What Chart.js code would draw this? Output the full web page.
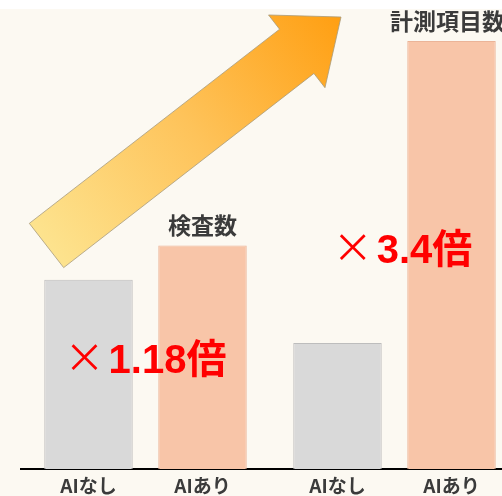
<!DOCTYPE html>
<html lang="ja">
<head>
<meta charset="utf-8">
<script src="https://cdn.jsdelivr.net/npm/chart.js@4"></script>
<style>
html,body{margin:0;padding:0;}
body{width:502px;height:496px;overflow:hidden;background:linear-gradient(#ffffff 0 9px,#fcf9f2 9px);}
#wrap{width:520px;height:496px;}
</style>
</head>
<body>
<div id="wrap"><canvas id="c" width="520" height="496"></canvas></div>
<script>
// Groups and series
const groups = ['検査数', '計測項目数'];
const seriesNames = ['AIなし', 'AIあり'];
// Relative values (AIなし of 検査数 = 100)
const withoutAI = [100, 66.5];
const withAI = [118, 226.1];
// Growth factors shown between the bars
const ratios = [1.18, 3.4];

const JP = '"Noto Sans CJK JP", "Noto Sans", sans-serif';
const NUM = '"Liberation Sans", "Noto Sans CJK JP", sans-serif';

// Decorative rising arrow behind the bars
const arrowPlugin = {
  id: 'riseArrow',
  beforeDatasetsDraw(chart) {
    const ctx = chart.ctx;
    const tail = {x: 46.5, y: 245.5}, tip = {x: 341, y: 17};
    const shaftW = 56, headW = 92, headLen = 56;
    const dx = tip.x - tail.x, dy = tip.y - tail.y;
    const len = Math.hypot(dx, dy);
    const ux = dx / len, uy = dy / len;
    const nx = -uy, ny = ux;
    const bx = tip.x - ux * headLen, by = tip.y - uy * headLen;
    const p = (cx, cy, s) => [cx + nx * s, cy + ny * s];
    const pts = [
      p(tail.x, tail.y, -shaftW / 2),
      p(bx, by, -shaftW / 2),
      p(bx, by, -headW / 2),
      [tip.x, tip.y],
      p(bx, by, headW / 2),
      p(bx, by, shaftW / 2),
      p(tail.x, tail.y, shaftW / 2)
    ];
    ctx.save();
    ctx.beginPath();
    pts.forEach((q, i) => i ? ctx.lineTo(q[0], q[1]) : ctx.moveTo(q[0], q[1]));
    ctx.closePath();
    const g = ctx.createLinearGradient(tail.x, tail.y, tip.x, tip.y);
    g.addColorStop(0, '#fde38e');
    g.addColorStop(0.5, '#fec35a');
    g.addColorStop(1, '#ff9f12');
    ctx.fillStyle = g;
    ctx.fill();
    ctx.lineWidth = 0.8;
    ctx.strokeStyle = '#a89a7a';
    ctx.stroke();
    ctx.restore();
  }
};

// Bar names, group titles and growth labels
const labelPlugin = {
  id: 'barTexts',
  afterDatasetsDraw(chart, args, opts) {
    const ctx = chart.ctx;
    const area = chart.chartArea;
    const yScale = chart.scales.y;
    const m0 = chart.getDatasetMeta(0).data;
    const m1 = chart.getDatasetMeta(1).data;
    ctx.save();
    ctx.textAlign = 'center';
    ctx.textBaseline = 'middle';
    ctx.fillStyle = '#3b3b3b';
    ctx.font = 'bold 19px ' + JP;
    chart.data.datasets.forEach((ds, di) => {
      chart.getDatasetMeta(di).data.forEach(bar => {
        ctx.fillText(ds.label, bar.x, area.bottom + 17);
      });
    });
    ctx.font = 'bold 23px ' + JP;
    groups.forEach((name, i) => {
      const bar = m1[i];
      ctx.fillText(name, bar.x + opts.titleShift[i], bar.y - 20);
    });
    // growth labels
    ctx.textBaseline = 'alphabetic';
    ctx.textAlign = 'left';
    ratios.forEach((r, i) => {
      const cx = (m0[i].x + m1[i].x) / 2 + opts.ratioShift[i];
      const by = yScale.getPixelForValue(opts.ratioBase[i]);
      const num = r + '倍';
      ctx.font = '40px ' + JP;
      const wx = ctx.measureText('×').width;
      ctx.font = 'bold 40px ' + NUM;
      const wn = ctx.measureText(num).width;
      const gap = 4;
      let x = cx - (wx + gap + wn) / 2;
      ctx.fillStyle = '#ff0000';
      ctx.font = '40px ' + JP;
      ctx.fillText('×', x, by - 1);
      ctx.font = 'bold 40px ' + NUM;
      ctx.fillText(num, x + wx + gap, by);
    });
    ctx.restore();
  }
};

new Chart(document.getElementById('c'), {
  type: 'bar',
  data: {
    labels: groups,
    datasets: [
      {label: seriesNames[0], data: withoutAI, backgroundColor: '#d9d9d9', borderColor: '#bdbdbd', borderWidth: 1,
       categoryPercentage: 0.9157, barPercentage: 0.776},
      {label: seriesNames[1], data: withAI, backgroundColor: '#f8c5a8', borderColor: '#ebb498', borderWidth: 1,
       categoryPercentage: 0.9157, barPercentage: 0.776}
    ]
  },
  options: {
    responsive: false,
    animation: false,
    devicePixelRatio: 1,
    layout: {padding: {left: 21, right: 1, top: 0, bottom: 27}},
    plugins: {
      legend: {display: false},
      tooltip: {enabled: false},
      barTexts: {titleShift: [0, -4], ratioShift: [0, 8], ratioBase: [50.7, 108.8]}
    },
    scales: {
      x: {
        grid: {display: false, drawTicks: false},
        border: {display: true, color: '#000000', width: 2},
        ticks: {display: false}
      },
      y: {display: false, min: 0, max: 247.7}
    }
  },
  plugins: [arrowPlugin, labelPlugin]
});
</script>
</body>
</html>
